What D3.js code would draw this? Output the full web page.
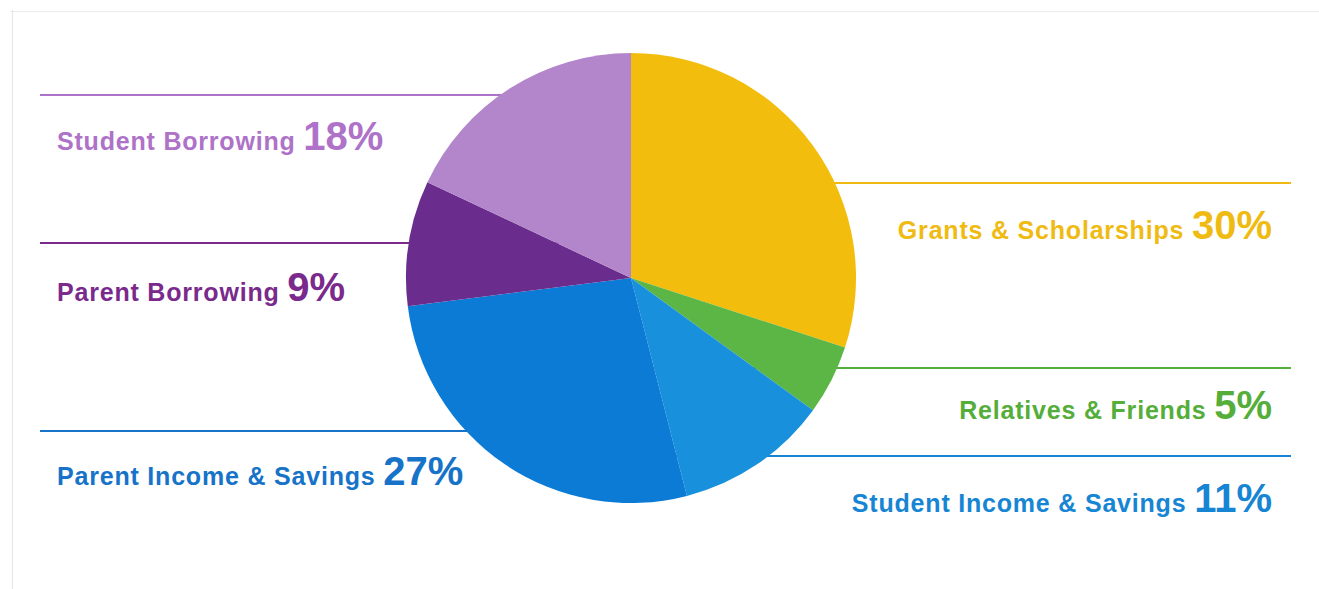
<!DOCTYPE html>
<html>
<head>
<meta charset="utf-8">
<script src="https://cdn.jsdelivr.net/npm/d3@7"></script>
<style>
  html, body { margin: 0; padding: 0; background: #fff; }
  svg { display: block; }
  text { font-family: "Liberation Sans", Arial, Helvetica, sans-serif; font-weight: bold; }
</style>
</head>
<body>
<svg id="chart" width="1319" height="589"></svg>
<script>
// Sources of college funding, share of total (%), clockwise from 12 o'clock
const categories = [
  "Grants & Scholarships",
  "Relatives & Friends",
  "Student Income & Savings",
  "Parent Income & Savings",
  "Parent Borrowing",
  "Student Borrowing"
];
const shares = [30, 5, 11, 27, 9, 18];
const sliceColors = ["#f2bd0c", "#5cb646", "#1990dc", "#0b7bd6", "#6b2d8d", "#b386cc"];
const labelColors = ["#efbb12", "#55ad3a", "#1685d4", "#1673c8", "#7a2a8c", "#ae72c8"];
const labelSide = ["right", "right", "right", "left", "left", "left"];

const svg = d3.select("#chart");
const W = 1319, H = 589;
const cx = 631, cy = 278, radius = 225;

// faint frame edges
svg.append("line").attr("x1", 10).attr("x2", W).attr("y1", 11.5).attr("y2", 11.5)
  .attr("stroke", "#ececec").attr("stroke-width", 1);
svg.append("line").attr("x1", 12.5).attr("x2", 12.5).attr("y1", 10).attr("y2", H)
  .attr("stroke", "#e6e6e6").attr("stroke-width", 1.2);

// vertical layout of each label: rule line and text baseline
const yScale = d3.scaleLinear().domain([0, H]).range([0, H]);
const ruleY   = [183, 368, 456, 431, 243, 95];
const textY   = [239, 419, 512, 485, 301, 150];

const leftX = 40, rightX = 1291, leftText = 57, rightText = 1272;

const data = categories.map((c, i) => ({
  name: c, value: shares[i], color: sliceColors[i], labelColor: labelColors[i],
  side: labelSide[i], ruleY: ruleY[i], textY: textY[i]
}));

// rule lines run behind the pie
const rules = svg.append("g");
data.forEach(d => {
  rules.append("line")
    .attr("x1", d.side === "left" ? leftX : cx)
    .attr("x2", d.side === "left" ? cx : rightX)
    .attr("y1", yScale(d.ruleY)).attr("y2", yScale(d.ruleY))
    .attr("stroke", d.labelColor)
    .attr("stroke-width", 2.2);
});

// pie
const pie = d3.pie().sort(null).value(d => d.value);
const arc = d3.arc().innerRadius(0).outerRadius(radius);
svg.append("g").attr("transform", `translate(${cx},${cy})`)
  .selectAll("path")
  .data(pie(data))
  .join("path")
  .attr("d", arc)
  .attr("fill", d => d.data.color);

// labels
const labels = svg.append("g");
data.forEach(d => {
  const t = labels.append("text")
    .attr("x", d.side === "left" ? leftText : rightText)
    .attr("y", yScale(d.textY))
    .attr("text-anchor", d.side === "left" ? "start" : "end")
    .attr("fill", d.labelColor);
  t.append("tspan").attr("font-size", 25).attr("letter-spacing", 0.8).text(d.name + " ");
  t.append("tspan").attr("font-size", 40).attr("letter-spacing", 0).text(d.value + "%");
});
</script>
</body>
</html>
